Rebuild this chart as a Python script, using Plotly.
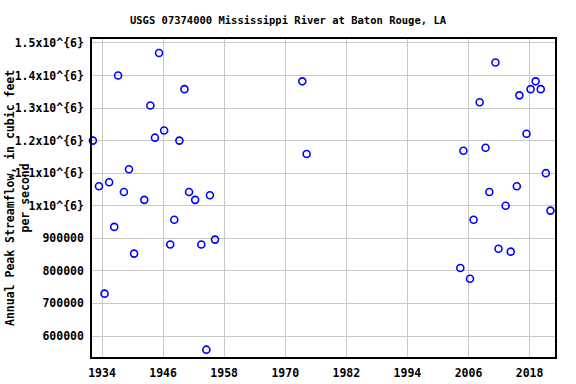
import plotly.graph_objects as go

years = [1932.2, 1933.4, 1934.5, 1935.4, 1936.4, 1937.15, 1938.3, 1939.3, 1940.3,
         1942.3, 1943.5, 1944.4, 1945.2, 1946.2, 1947.4, 1948.2, 1949.2, 1950.2,
         1951.1, 1952.3, 1953.5, 1954.5, 1955.2, 1956.2,
         1973.35, 1974.2,
         2004.4, 2005.0, 2006.3, 2007.0, 2008.2, 2009.35, 2010.1, 2011.3, 2011.9,
         2013.3, 2014.3, 2015.5, 2016.0, 2017.4, 2018.2, 2019.2, 2020.2, 2021.2, 2022.1]
peaks = [1200000, 1060000, 730000, 1072000, 935000, 1400000, 1042000, 1112000, 853000,
         1018000, 1308000, 1209000, 1469000, 1231000, 881000, 957000, 1200000, 1358000,
         1042000, 1018000, 881000, 558000, 1032000, 896000,
         1382000, 1159000,
         809000, 1169000, 776000, 957000, 1318000, 1178000, 1042000, 1440000, 868000,
         1000000, 859000, 1060000, 1339000, 1221000, 1358000, 1382000, 1358000, 1100000, 985000]

x_ticks = [1934, 1946, 1958, 1970, 1982, 1994, 2006, 2018]
y_ticks = [600000, 700000, 800000, 900000, 1000000, 1100000, 1200000, 1300000, 1400000, 1500000]
y_labels = ["600000", "700000", "800000", "900000", "1x10^{6}", "1.1x10^{6}",
            "1.2x10^{6}", "1.3x10^{6}", "1.4x10^{6}", "1.5x10^{6}"]

title = "USGS 07374000 Mississippi River at Baton Rouge, LA"
y_title = "Annual Peak Streamflow, in cubic feet<br>per second"

mono = "DejaVu Sans Mono"

fig = go.Figure()
fig.add_trace(go.Scatter(
    x=years, y=peaks, mode="markers",
    marker=dict(symbol="circle-open", size=7, color="#0000ff",
                line=dict(width=1.6, color="#0000ff")),
    cliponaxis=False, showlegend=False,
))

fig.update_layout(
    width=576, height=384,
    margin=dict(l=92, r=21, t=39, b=27, autoexpand=False),
    paper_bgcolor="white", plot_bgcolor="white",
    title=dict(text=title, x=0.5, xref="container", xanchor="center",
               y=1 - 20 / 384, yref="container", yanchor="middle",
               font=dict(family=mono, size=10.5, color="black", weight="bold")),
    xaxis=dict(range=[1932.03, 2023.0], tickvals=x_ticks,
               ticktext=[str(v) for v in x_ticks], automargin=False,
               showgrid=True, gridcolor="#c8c8c8", gridwidth=1,
               showline=True, linecolor="black", linewidth=1.5, mirror=True,
               ticks="", zeroline=False, ticklabelstandoff=4,
               tickfont=dict(family=mono, size=11.5, color="black", weight="bold")),
    yaxis=dict(range=[535500, 1512000], tickvals=y_ticks, ticktext=y_labels,
               automargin=False,
               showgrid=True, gridcolor="#c8c8c8", gridwidth=1,
               showline=True, linecolor="black", linewidth=1.5, mirror=True,
               ticks="", zeroline=False, ticklabelstandoff=4,
               tickfont=dict(family=mono, size=11.5, color="black", weight="bold")),
    annotations=[dict(text=y_title, textangle=-90, xref="paper", yref="paper",
                      x=0, y=0.5, xshift=-75, xanchor="center", yanchor="middle",
                      showarrow=False,
                      font=dict(family=mono, size=11.5, color="black", weight="bold"))],
)

fig.write_html("out.html")
